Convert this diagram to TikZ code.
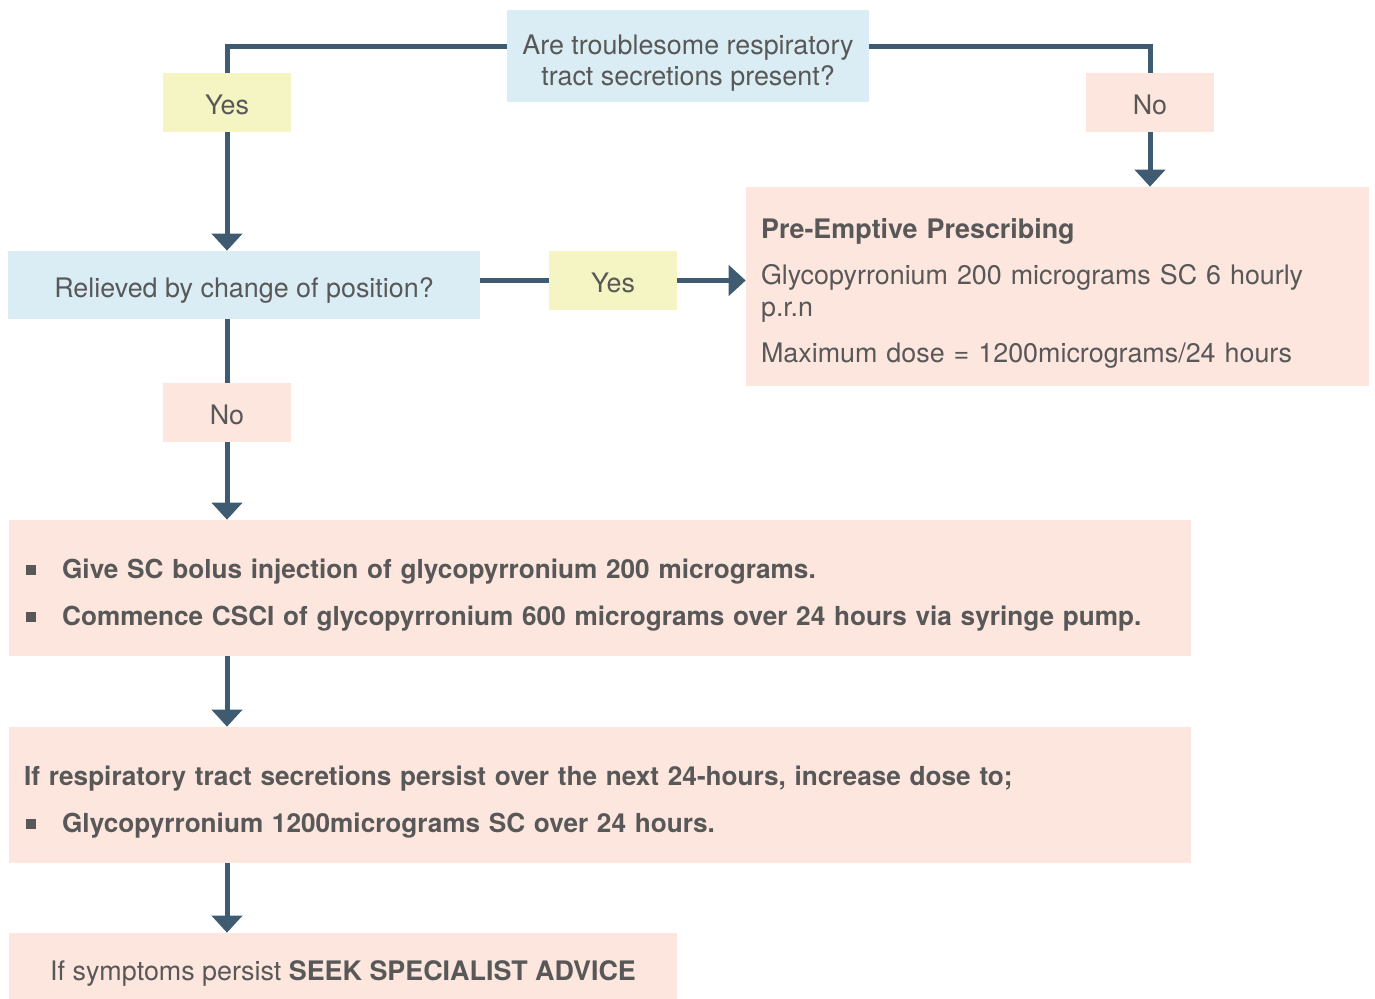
\documentclass[tikz,border=0pt]{standalone}
\usepackage{fontspec}
\setmainfont{TeX Gyre Heros}
\usetikzlibrary{arrows.meta,positioning}

\definecolor{qblue}{HTML}{DAEDF4}
\definecolor{ansyes}{HTML}{F5F5C4}
\definecolor{boxpink}{HTML}{FDE6DE}
\definecolor{flowline}{HTML}{3E5B72}
\definecolor{txtgrey}{HTML}{585858}
\newcommand{\sqbul}{\hspace{0.04cm}\raisebox{0.075cm}{\rule{0.2cm}{0.2cm}}\hspace{0.52cm}}
\newcommand{\topgap}{\rule{0pt}{0.68cm}}

\begin{document}
\begin{tikzpicture}[x=0.02cm, y=-0.02cm,
    font=\fontsize{15.3}{18}\selectfont, text=txtgrey,
    every node/.style={inner sep=0pt},
    oneline/.style={text height=0.5cm, text depth=0cm},
    question/.style={fill=qblue, align=center},
    yesbox/.style={fill=ansyes, oneline, minimum width=2.56cm, minimum height=1.18cm},
    nobox/.style={fill=boxpink, oneline, minimum width=2.56cm, minimum height=1.18cm},
    actbox/.style={fill=boxpink, align=left, inner xsep=0.3cm},
    flow/.style={draw=flowline, line width=0.1cm},
    flowarrow/.style={flow, -{Triangle[width=0.6cm,length=0.34cm]}}]

    \useasboundingbox (0,0) rectangle (1375,999);

    % Draw the questions and the answers
    \node[question, minimum width=7.24cm, minimum height=1.84cm] (q1) at (688,56) {\topgap Are troublesome respiratory\\tract secretions present?};
    \node[yesbox] (yes1) at (227,102.5) {Yes};
    \node[nobox] (no1) at (1150,102.5) {No};
    \node[question, oneline, minimum width=9.44cm, minimum height=1.36cm] (q2) at (244,285) {Relieved by change of position?};
    \node[yesbox] (yes2) at (613,280.5) {Yes};
    \node[nobox] (no2) at (227,412.5) {No};

    % Draw the prescribing boxes
    \node[actbox, text width=11.86cm, minimum height=3.98cm] (pe) at (1057.5,286.5) {\topgap\textbf{Pre-Emptive Prescribing}\\[8.5pt]
        Glycopyrronium 200 micrograms SC 6 hourly\\p.r.n\\[8.5pt]
        Maximum dose = 1200micrograms/24 hours};
    \node[actbox, text width=23.04cm, minimum height=2.72cm, font=\fontsize{14.9}{18}\selectfont\bfseries] (b3) at (600,588) {\topgap
        \sqbul Give SC bolus injection of glycopyrronium 200 micrograms.\\[8.5pt]
        \sqbul Commence CSCI of glycopyrronium 600 micrograms over 24 hours via syringe pump.};
    \node[actbox, text width=23.04cm, minimum height=2.72cm, font=\fontsize{14.9}{18}\selectfont\bfseries] (b4) at (600,795) {\topgap
        If respiratory tract secretions persist over the next 24-hours, increase dose to;\\[8.5pt]
        \sqbul Glycopyrronium 1200micrograms SC over 24 hours.};
    \node[fill=boxpink, text height=0.56cm, text depth=0cm, minimum width=13.36cm, minimum height=1.32cm] (b5) at (343,966) {If symptoms persist \textbf{SEEK SPECIALIST ADVICE}};

    % Draw the connectors
    \draw[flow] ([yshift=0.18cm]q1.west) -| (yes1.north);
    \draw[flowarrow] (yes1.south) -- (q2.north -| yes1.south);
    \draw[flow] ([yshift=0.18cm]q1.east) -| (no1.north);
    \draw[flowarrow] (no1.south) -- (pe.north -| no1.south);
    \draw[flow] (q2.east |- yes2.west) -- (yes2.west);
    \draw[flowarrow] (yes2.east) -- (pe.west |- yes2.east);
    \draw[flow] (q2.south -| no2.north) -- (no2.north);
    \draw[flowarrow] (no2.south) -- (b3.north -| no2.south);
    \draw[flowarrow] (b3.south -| no2.south) -- (b4.north -| no2.south);
    \draw[flowarrow] (b4.south -| no2.south) -- (b5.north -| no2.south);

\end{tikzpicture}
\end{document}
